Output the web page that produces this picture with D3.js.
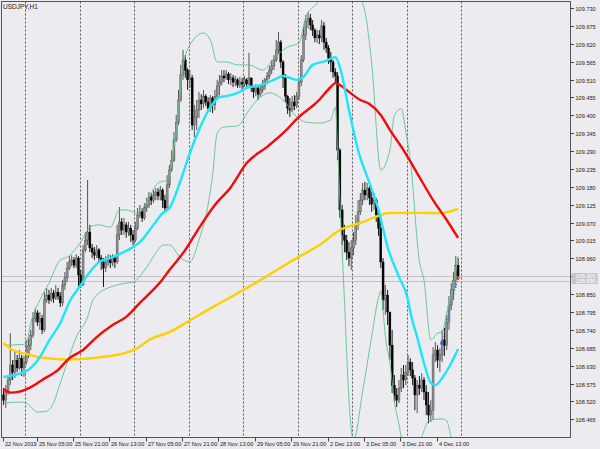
<!DOCTYPE html>
<html><head><meta charset="utf-8">
<script src="https://cdn.jsdelivr.net/npm/d3@7"></script>
<style>body{margin:0;background:#ebebf0;}svg{display:block;}</style>
</head><body>
<svg id="c" width="600" height="449"></svg>
<script>
// ---------------- DATA ----------------
const title = "USDJPY,H1";
const opens = [108.540,108.524,108.549,108.586,108.632,108.610,108.647,108.623,108.653,108.623,108.641,108.663,108.693,108.724,108.776,108.792,108.764,108.776,108.740,108.832,108.847,108.832,108.853,108.838,108.856,108.844,108.823,108.878,108.900,108.930,108.949,108.955,108.939,108.961,108.909,108.878,108.986,109.016,109.041,108.992,108.979,108.970,108.986,108.961,108.949,108.930,108.949,108.961,108.946,108.961,108.949,109.032,109.072,109.047,109.063,109.041,109.053,109.032,109.016,109.053,109.093,109.103,109.084,109.115,109.124,109.149,109.139,109.155,109.164,109.152,109.170,109.139,109.115,109.186,109.232,109.262,109.324,109.379,109.447,109.524,109.570,109.539,109.509,109.515,109.370,109.392,109.416,109.447,109.435,109.459,109.441,109.422,109.453,109.432,109.459,109.490,109.502,109.521,109.515,109.527,109.509,109.515,109.502,109.509,109.493,109.502,109.496,109.509,109.496,109.515,109.484,109.472,109.484,109.465,109.478,109.490,109.509,109.521,109.539,109.552,109.570,109.601,109.625,109.564,109.515,109.459,109.422,109.416,109.441,109.429,109.459,109.502,109.570,109.647,109.687,109.699,109.678,109.662,109.638,109.647,109.638,109.675,109.625,109.607,109.576,109.564,109.533,109.521,109.293,109.109,109.032,109.016,108.979,108.961,108.992,109.016,109.063,109.103,109.139,109.170,109.155,109.176,109.146,109.127,109.139,109.093,109.053,108.949,108.832,108.847,108.795,108.693,108.570,108.540,108.524,108.561,108.601,108.586,108.610,108.641,108.617,108.592,108.540,108.570,108.561,108.586,108.549,108.509,108.478,108.493,108.663,108.678,108.647,108.663,108.709,108.693,108.764,108.816,108.863,108.893,108.939];
const highs = [108.561,108.570,108.601,108.730,108.647,108.672,108.663,108.678,108.663,108.660,108.709,108.715,108.740,108.795,108.807,108.801,108.795,108.786,108.856,108.869,108.863,108.869,108.863,108.878,108.869,108.856,108.893,108.918,108.949,108.967,108.970,108.964,108.973,108.967,108.924,109.001,109.041,109.201,109.063,109.004,108.995,109.001,108.992,108.970,108.961,108.967,108.973,108.970,108.973,108.970,109.063,109.118,109.084,109.084,109.072,109.072,109.063,109.047,109.072,109.115,109.124,109.115,109.130,109.146,109.164,109.161,109.170,109.176,109.176,109.183,109.176,109.155,109.216,109.247,109.293,109.349,109.401,109.478,109.555,109.601,109.585,109.545,109.539,109.524,109.432,109.447,109.472,109.465,109.478,109.465,109.456,109.462,109.459,109.478,109.509,109.524,109.539,109.539,109.539,109.533,109.530,109.524,109.521,109.515,109.518,109.515,109.521,109.515,109.592,109.515,109.493,109.496,109.490,109.490,109.509,109.515,109.533,109.552,109.570,109.585,109.632,109.656,109.632,109.570,109.527,109.462,109.453,109.459,109.462,109.472,109.515,109.585,109.672,109.708,109.718,109.712,109.693,109.668,109.662,109.662,109.693,109.687,109.638,109.616,109.595,109.570,109.545,109.533,109.299,109.124,109.063,109.032,109.010,109.016,109.041,109.093,109.139,109.161,109.192,109.195,109.192,109.183,109.164,109.161,109.146,109.103,109.078,108.961,108.878,108.863,108.786,108.740,108.601,108.561,108.586,108.623,108.632,108.632,108.663,108.653,108.641,108.601,108.586,108.598,108.607,108.595,108.570,108.549,108.524,108.687,108.703,108.693,108.684,108.740,108.746,108.786,108.844,108.884,108.918,108.967,108.961];
const lows = [108.509,108.500,108.540,108.570,108.586,108.592,108.610,108.617,108.598,108.595,108.632,108.653,108.678,108.715,108.764,108.752,108.740,108.727,108.733,108.823,108.820,108.826,108.823,108.832,108.832,108.810,108.813,108.863,108.887,108.924,108.936,108.930,108.930,108.869,108.869,108.875,108.979,109.001,108.979,108.961,108.955,108.961,108.949,108.924,108.872,108.918,108.936,108.930,108.936,108.930,108.943,109.016,109.032,109.032,109.023,109.029,109.010,109.001,109.010,109.047,109.084,109.072,109.078,109.103,109.115,109.124,109.130,109.139,109.139,109.139,109.115,109.103,109.109,109.176,109.226,109.256,109.318,109.370,109.441,109.509,109.515,109.478,109.484,109.355,109.333,109.355,109.392,109.416,109.422,109.429,109.410,109.410,109.407,109.416,109.447,109.462,109.493,109.502,109.509,109.496,109.493,109.487,109.490,109.484,109.484,109.478,109.487,109.484,109.490,109.472,109.453,109.459,109.447,109.456,109.469,109.478,109.496,109.512,109.527,109.539,109.564,109.589,109.545,109.484,109.441,109.404,109.395,109.410,109.416,109.422,109.447,109.490,109.564,109.632,109.668,109.662,109.644,109.625,109.622,109.619,109.625,109.601,109.592,109.558,109.533,109.515,109.499,109.262,109.084,109.001,108.979,108.955,108.936,108.924,108.970,109.001,109.047,109.093,109.124,109.139,109.139,109.124,109.103,109.109,109.072,109.029,108.930,108.801,108.786,108.755,108.647,108.546,108.518,108.503,108.515,108.549,108.561,108.570,108.598,108.598,108.570,108.493,108.484,108.540,108.549,108.524,108.478,108.453,108.457,108.463,108.641,108.623,108.610,108.641,108.660,108.678,108.740,108.801,108.832,108.869,108.893];
const closes = [108.524,108.549,108.586,108.632,108.610,108.647,108.623,108.653,108.623,108.641,108.663,108.693,108.724,108.776,108.792,108.764,108.776,108.740,108.832,108.847,108.832,108.853,108.838,108.856,108.844,108.823,108.878,108.900,108.930,108.949,108.955,108.939,108.961,108.909,108.878,108.986,109.016,109.041,108.992,108.979,108.970,108.986,108.961,108.949,108.930,108.949,108.961,108.946,108.961,108.949,109.032,109.072,109.047,109.063,109.041,109.053,109.032,109.016,109.053,109.093,109.103,109.084,109.115,109.124,109.149,109.139,109.155,109.164,109.152,109.170,109.139,109.115,109.186,109.232,109.262,109.324,109.379,109.447,109.524,109.570,109.539,109.509,109.515,109.370,109.392,109.416,109.447,109.435,109.459,109.441,109.422,109.453,109.432,109.459,109.490,109.502,109.521,109.515,109.527,109.509,109.515,109.502,109.509,109.493,109.502,109.496,109.509,109.496,109.515,109.484,109.472,109.484,109.465,109.478,109.490,109.509,109.521,109.539,109.552,109.570,109.601,109.625,109.564,109.515,109.459,109.422,109.416,109.441,109.429,109.459,109.502,109.570,109.647,109.687,109.699,109.678,109.662,109.638,109.647,109.638,109.675,109.625,109.607,109.576,109.564,109.533,109.521,109.293,109.109,109.032,109.016,108.979,108.961,108.992,109.016,109.063,109.103,109.139,109.170,109.155,109.176,109.146,109.127,109.139,109.093,109.053,108.949,108.832,108.847,108.795,108.693,108.570,108.540,108.524,108.561,108.601,108.586,108.610,108.641,108.617,108.592,108.540,108.570,108.561,108.586,108.549,108.509,108.478,108.493,108.663,108.678,108.647,108.663,108.709,108.693,108.764,108.816,108.863,108.893,108.939,108.906];

// moving averages / bands: [bar index, price]
const maFast = [[0,108.595],[10,108.613],[16,108.656],[20,108.706],[25,108.761],[29,108.826],[34,108.878],[38,108.918],[42,108.949],[47,108.961],[50,108.970],[57,108.995],[60,109.010],[66,109.063],[70,109.099],[73,109.115],[78,109.201],[82,109.284],[86,109.355],[91,109.425],[95,109.456],[98,109.459],[103,109.469],[107,109.484],[113,109.493],[119,109.509],[123,109.521],[129,109.509],[132,109.518],[136,109.555],[142,109.567],[146,109.579],[148,109.549],[152,109.416],[156,109.293],[161,109.192],[165,109.109],[169,108.995],[174,108.903],[178,108.832],[179,108.795],[182,108.718],[185,108.638],[188,108.577],[190,108.570],[193,108.592],[197,108.638],[200,108.681]];
const maMid = [[0,108.558],[3,108.547],[7,108.550],[12,108.564],[17,108.586],[24,108.617],[29,108.653],[35,108.678],[41,108.718],[48,108.755],[54,108.780],[60,108.823],[69,108.887],[73,108.924],[80,108.986],[86,109.053],[93,109.124],[100,109.179],[107,109.253],[116,109.303],[123,109.345],[130,109.395],[138,109.441],[144,109.487],[146,109.499],[148,109.493],[152,109.472],[157,109.447],[161,109.435],[166,109.401],[170,109.355],[176,109.293],[183,109.210],[189,109.139],[195,109.078],[200,109.023]];
const maSlow = [[0,108.700],[4,108.678],[10,108.666],[16,108.656],[22,108.651],[28,108.649],[34,108.650],[39,108.653],[47,108.660],[54,108.670],[59,108.684],[64,108.709],[73,108.733],[86,108.786],[100,108.841],[113,108.893],[126,108.949],[139,109.001],[148,109.047],[157,109.069],[166,109.093],[169,109.099],[183,109.100],[192,109.099],[200,109.112]];
const bandUpper = [[0,108.693],[10,108.696],[12,108.761],[16,108.832],[20,108.884],[25,108.955],[28,108.964],[34,109.010],[38,109.056],[42,109.063],[47,109.056],[51,109.109],[54,109.109],[59,109.099],[63,109.133],[68,109.192],[72,109.201],[76,109.355],[79,109.549],[82,109.616],[88,109.653],[91,109.632],[94,109.564],[98,109.564],[103,109.555],[108,109.555],[114,109.539],[119,109.576],[125,109.610],[130,109.622],[133,109.702],[138,109.745],[141,109.780],[148,109.820],[153,109.810],[157,109.760],[159,109.720],[162,109.560],[166,109.232],[170,109.293],[172,109.400],[175,109.420],[177,109.350],[179,109.262],[183,108.950],[185,108.893],[188,108.709],[191,108.730],[193,108.733],[195,108.792],[198,108.878],[200,108.967]];
const bandLower = [[0,108.515],[7,108.518],[10,108.515],[12,108.503],[15,108.487],[19,108.490],[22,108.515],[25,108.577],[28,108.638],[32,108.718],[37,108.780],[39,108.826],[42,108.853],[46,108.869],[50,108.878],[54,108.884],[57,108.887],[63,108.933],[68,108.986],[70,109.001],[73,109.001],[78,108.961],[82,108.949],[86,109.016],[90,109.124],[92,109.216],[94,109.345],[97,109.364],[103,109.367],[108,109.416],[113,109.456],[117,109.469],[123,109.447],[129,109.395],[133,109.379],[139,109.376],[144,109.386],[146,109.425],[147,109.300],[148,109.139],[150,108.832],[152,108.524],[154,108.400],[158,108.550],[162,108.720],[165,108.840],[166,108.860],[167,108.800],[168,108.720],[170,108.640],[172,108.520],[174,108.450],[176,108.380],[182,108.380],[185,108.430],[187,108.460],[190,108.465],[193,108.466],[195,108.460],[197,108.410],[200,108.350]];

const bidPrice = 108.905, askPrice = 108.890;
const tradeLine = [[192.8,108.699],[200,108.900]];
const yTickLabels = ["109.730","109.675","109.620","109.565","109.510","109.455","109.400","109.345","109.290","109.235","109.180","109.125","109.070","109.015","108.960","108.905","108.850","108.795","108.740","108.685","108.630","108.575","108.520","108.465"];
const xTickIdx = [0,15,31,47,63,79,95,111,127,143,159,175,191];
const xTickLabels = ["22 Nov 2019","25 Nov 05:00","25 Nov 21:00","26 Nov 13:00","27 Nov 05:00","27 Nov 21:00","28 Nov 13:00","29 Nov 05:00","29 Nov 21:00","2 Dec 13:00","3 Dec 05:00","3 Dec 21:00","4 Dec 13:00"];
const separatorIdx = [10,34,58,82,106,130,154,178,202];

// ---------------- CHART ----------------
const W = 600, H = 449;
const L = 1.5, R = 570.5, T = 1.5, B = 437.5;
const svg = d3.select("#c");
const font = "'Liberation Sans', Arial, sans-serif";
svg.append("rect").attr("width", W).attr("height", H).attr("fill", "#ebebf0");

const x = d3.scaleLinear().domain([0, 249.25]).range([3.5, 570]);
const y = d3.scaleLinear().domain([108.465, 109.730]).range([419.3, 8]);

svg.append("clipPath").attr("id", "clip").append("rect")
  .attr("x", L).attr("y", T).attr("width", R - L).attr("height", B - T);
const g = svg.append("g").attr("clip-path", "url(#clip)");

// period separators
g.selectAll("line.sep").data(separatorIdx).join("line")
  .attr("x1", d => Math.round(x(d - 0.5)) + 0.5).attr("x2", d => Math.round(x(d - 0.5)) + 0.5)
  .attr("y1", T).attr("y2", B)
  .attr("stroke", "#4a4a4a").attr("stroke-width", 0.9).attr("stroke-dasharray", "2,2");

// bid / ask lines
[bidPrice, askPrice].forEach(p => {
  g.append("line").attr("x1", L).attr("x2", R)
    .attr("y1", Math.round(y(p)) + 0.5).attr("y2", Math.round(y(p)) + 0.5)
    .attr("stroke", "#c2c2c6").attr("stroke-width", 1);
});

// candles
const idx = d3.range(closes.length);
g.selectAll("line.wick").data(idx).join("line")
  .attr("x1", i => x(i)).attr("x2", i => x(i))
  .attr("y1", i => y(highs[i])).attr("y2", i => y(lows[i]))
  .attr("stroke", i => closes[i] >= opens[i] ? "#444" : "#000").attr("stroke-width", 0.9);
g.selectAll("rect.body").data(idx).join("rect")
  .attr("x", i => x(i) - 1).attr("width", 2)
  .attr("y", i => y(Math.max(opens[i], closes[i])))
  .attr("height", i => Math.max(1, Math.abs(y(opens[i]) - y(closes[i]))))
  .attr("fill", i => closes[i] >= opens[i] ? "#8e8e8e" : "#000")
  .attr("stroke", i => closes[i] >= opens[i] ? "#4a4a4a" : "#000").attr("stroke-width", 0.4);

// bands
const bandLine = d3.line().x(d => x(d[0])).y(d => y(d[1])).curve(d3.curveMonotoneX);
[bandUpper, bandLower].forEach(s => {
  g.append("path").attr("d", bandLine(s)).attr("fill", "none")
    .attr("stroke", "#5cc48c").attr("stroke-width", 0.9);
});

// moving averages
const maLine = d3.line().x(d => x(d[0])).y(d => y(d[1])).curve(d3.curveMonotoneX);
[[maSlow, "#ffd000"], [maMid, "#f50a0a"], [maFast, "#1ce6f8"]].forEach(([s, c]) => {
  g.append("path").attr("d", maLine(s)).attr("fill", "none")
    .attr("stroke", c).attr("stroke-width", 2.4).attr("stroke-linejoin", "round");
});

// trade line
g.append("path").attr("d", d3.line().x(d => x(d[0])).y(d => y(d[1]))(tradeLine))
  .attr("fill", "none").attr("stroke", "#2f6fe0").attr("stroke-width", 1).attr("stroke-dasharray", "1,2");
g.append("rect").attr("x", x(tradeLine[0][0]) - 1.5).attr("y", y(tradeLine[0][1]) - 1.5)
  .attr("width", 3).attr("height", 3).attr("fill", "#2f6fe0");
g.append("circle").attr("cx", x(200)).attr("cy", y(tradeLine[1][1])).attr("r", 1.6).attr("fill", "#e8402a");

// frame
svg.append("rect").attr("x", L).attr("y", T).attr("width", R - L).attr("height", B - T)
  .attr("fill", "none").attr("stroke", "#555").attr("stroke-width", 1);

// right axis
const yt = svg.append("g");
yTickLabels.forEach(t => {
  const py = Math.round(y(+t)) + 0.5;
  yt.append("line").attr("x1", R).attr("x2", R + 3.5).attr("y1", py).attr("y2", py)
    .attr("stroke", "#444").attr("stroke-width", 1);
  yt.append("text").attr("x", R + 5).attr("y", py + 2).text(t)
    .attr("font-family", font).attr("font-size", 5.6).attr("fill", "#222");
});
// price labels
[[bidPrice, "108.905"], [askPrice, "108.890"]].forEach(([p, t]) => {
  const py = Math.round(y(p));
  svg.append("rect").attr("x", R + 1).attr("y", py - 3).attr("width", 26).attr("height", 6).attr("fill", "#c6c6ca");
  svg.append("text").attr("x", R + 5).attr("y", py + 2).text(t)
    .attr("font-family", font).attr("font-size", 5.6).attr("fill", "#ffffff");
});

// bottom axis
xTickIdx.forEach((d, k) => {
  const px = Math.round(x(d)) - 0.5;
  svg.append("line").attr("x1", px).attr("x2", px).attr("y1", B).attr("y2", B + 4)
    .attr("stroke", "#444").attr("stroke-width", 1);
  svg.append("text").attr("x", px + 1.5).attr("y", B + 8.5).text(xTickLabels[k])
    .attr("font-family", font).attr("font-size", 5.6).attr("fill", "#222");
});

// title
svg.append("text").attr("x", 3).attr("y", 8.5).text(title)
  .attr("font-family", font).attr("font-size", 6.5).attr("fill", "#222");
</script>
</body></html>
